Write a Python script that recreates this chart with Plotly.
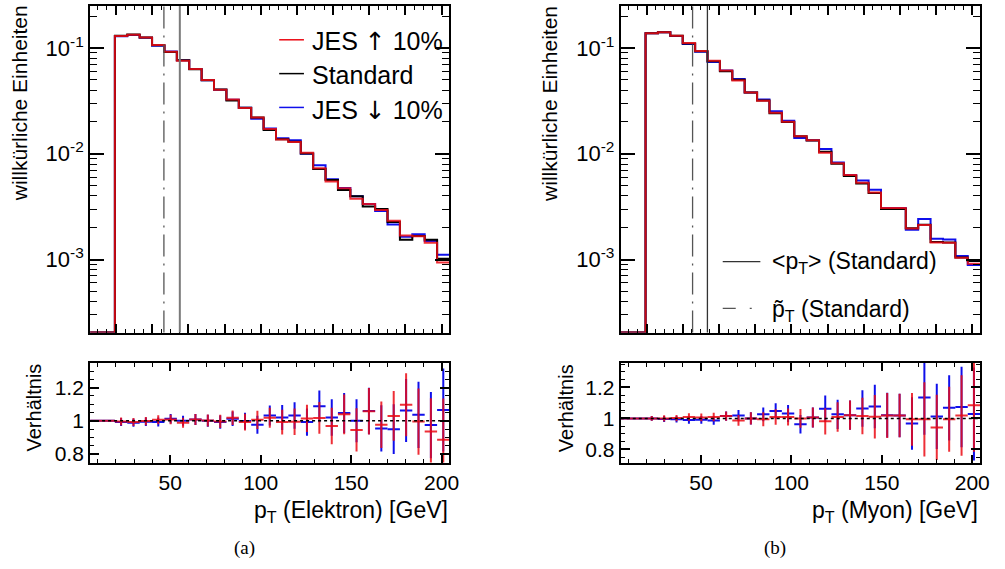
import numpy as np
import plotly.graph_objects as go

# ---------------- data ----------------
bin_lo = 5.7        # GeV, lower edge of first bin
bin_width = 6.85    # GeV
n_empty = 2         # leading empty bins (below the pT threshold)

# (a) Elektron
std_e = [0.1306, 0.1345, 0.126, 0.106, 0.0917, 0.0766, 0.063, 0.0497, 0.0406, 0.032,
         0.0273, 0.022, 0.01683, 0.01375, 0.01298, 0.01007, 0.00718, 0.00565, 0.00455, 0.00397,
         0.00317, 0.00301, 0.00226, 0.00154, 0.00167, 0.00154, 0.00102]
up_e = [0.1301, 0.1334, 0.1257, 0.1066, 0.0924, 0.0757, 0.0635, 0.0498, 0.0404, 0.0326,
        0.0271, 0.0221, 0.01713, 0.01364, 0.0129, 0.01021, 0.0073, 0.00547, 0.00473, 0.00375,
        0.00335, 0.00294, 0.00233, 0.00169, 0.00166, 0.00144, 0.00094]
down_e = [0.1296, 0.1329, 0.1252, 0.1052, 0.0928, 0.0766, 0.0635, 0.0497, 0.0403, 0.0324,
          0.0272, 0.0215, 0.01737, 0.01403, 0.0134, 0.00999, 0.0078, 0.00576, 0.00476, 0.00397,
          0.00336, 0.00287, 0.00214, 0.00164, 0.00173, 0.0015, 0.00111]
ratio_up_e = [0.996, 0.992, 0.998, 1.006, 1.008, 0.988, 1.008, 1.002, 0.996, 1.018,
              0.992, 1.006, 1.018, 0.992, 0.994, 1.014, 1.017, 0.969, 1.039, 0.945,
              1.057, 0.976, 1.029, 1.097, 0.995, 0.936, 0.885]
ratio_down_e = [0.992, 0.988, 0.994, 0.992, 1.012, 1.0, 1.008, 1.0, 0.992, 1.012,
                0.998, 0.976, 1.032, 1.02, 1.032, 0.992, 1.087, 1.02, 1.047, 1.0,
                1.059, 0.954, 0.949, 1.062, 1.036, 0.974, 1.065]
ratio_err_e = [0.024, 0.024, 0.025, 0.027, 0.029, 0.03, 0.033, 0.036, 0.04, 0.044,
               0.05, 0.055, 0.06, 0.075, 0.08, 0.082, 0.096, 0.11, 0.12, 0.13,
               0.14, 0.14, 0.15, 0.19, 0.2, 0.2, 0.25]
mean_pt_e = 55.3
median_pt_e = 46.5

# (b) Myon
std_m = [0.1384, 0.1413, 0.1306, 0.1106, 0.0931, 0.075, 0.0604, 0.0501, 0.0379, 0.0319,
         0.0242, 0.01995, 0.01465, 0.01334, 0.01044, 0.00806, 0.00618, 0.00524, 0.00425, 0.00301,
         0.00301, 0.00198, 0.00213, 0.001466, 0.00145, 0.001045, 0.00097]
up_m = [0.1384, 0.1413, 0.1309, 0.1116, 0.0937, 0.0757, 0.0613, 0.0494, 0.0379, 0.0317,
        0.0244, 0.02013, 0.01465, 0.01342, 0.01024, 0.00813, 0.00631, 0.00532, 0.0043, 0.00307,
        0.00307, 0.00197, 0.00212, 0.00145, 0.00144, 0.00104, 0.00091]
down_m = [0.1384, 0.1407, 0.1298, 0.1095, 0.0923, 0.074, 0.0613, 0.0511, 0.0379, 0.0327,
          0.0253, 0.02059, 0.01409, 0.01342, 0.01109, 0.00827, 0.00631, 0.00558, 0.00458, 0.00307,
          0.00307, 0.00191, 0.00242, 0.00157, 0.00155, 0.00108, 0.00089]
ratio_up_m = [1.0, 1.0, 1.002, 1.009, 1.006, 1.009, 1.015, 0.987, 1.0, 0.994,
              1.009, 1.009, 1.0, 1.006, 0.981, 1.009, 1.021, 1.015, 1.011, 1.019,
              1.019, 0.994, 0.994, 0.942, 0.994, 1.019, 1.085]
ratio_down_m = [1.0, 0.996, 0.994, 0.99, 0.991, 0.987, 1.015, 1.019, 1.0, 1.026,
                1.047, 1.032, 0.962, 1.006, 1.062, 1.026, 1.021, 1.064, 1.077, 1.021,
                1.019, 0.967, 1.135, 1.013, 1.068, 1.073, 1.028]
ratio_err_m = [0.016, 0.02, 0.02, 0.025, 0.025, 0.028, 0.03, 0.035, 0.04, 0.045,
               0.05, 0.055, 0.06, 0.065, 0.085, 0.095, 0.095, 0.118, 0.14, 0.145,
               0.14, 0.17, 0.24, 0.21, 0.21, 0.26, 0.3]
mean_pt_m = 53.6
median_pt_m = 45.4

ARROW_FONT = "DejaVu Sans"
legend_labels = ["JES <span style=\"font-family:%s\">\u2191</span> 10%%" % ARROW_FONT,
                 "Standard",
                 "JES <span style=\"font-family:%s\">\u2193</span> 10%%" % ARROW_FONT]
line_legend_labels = ["&lt;p<sub>T</sub>&gt; (Standard)", "p\u0303<sub>T</sub> (Standard)"]
y_title_top = "willk\u00fcrliche Einheiten"
y_title_ratio = "Verh\u00e4ltnis"
x_titles = ["p<sub>T</sub> (Elektron) [GeV]", "p<sub>T</sub> (Myon) [GeV]"]
captions = ["(a)", "(b)"]

# ---------------- styling ----------------
W, H = 1005, 569
FONT = "Liberation Sans, Arial, Helvetica, sans-serif"
SERIF = "Liberation Serif, Times New Roman, serif"
RED = "rgba(235,10,20,0.85)"
BLUE = "rgb(15,15,235)"
BLACK = "black"
Y_LOG_RANGE = [np.log10(2.04e-4), np.log10(0.25)]
n_bins = n_empty + len(std_e)
X_RANGE = [bin_lo, bin_lo + bin_width * n_bins]


def fx(p):
    return p / W


def fy(p):
    return 1 - p / H


def step_xy(vals):
    full = [10 ** Y_LOG_RANGE[0]] * n_empty + list(vals)
    edges = bin_lo + bin_width * np.arange(len(full) + 1)
    return edges, full + [full[-1]]


def hist_trace(vals, color, xa, ya):
    x, y = step_xy(vals)
    return go.Scatter(x=x, y=y, mode="lines", line=dict(shape="hv", color=color, width=2),
                      xaxis=xa, yaxis=ya, showlegend=False, hoverinfo="skip")


def ratio_trace(r, err, color, xa, ya):
    full_r = [1.0] * n_empty + list(r)
    full_e = [0.0] * n_empty + list(err)
    centers = bin_lo + bin_width * (np.arange(len(full_r)) + 0.5)
    return go.Scatter(x=centers, y=full_r, mode="markers",
                      marker=dict(size=1, color=color),
                      error_x=dict(type="constant", value=bin_width / 2, width=0, thickness=2, color=color),
                      error_y=dict(type="data", array=full_e, width=0, thickness=2, color=color),
                      xaxis=xa, yaxis=ya, showlegend=False, hoverinfo="skip")


fig = go.Figure()
panels = [
    dict(std=std_e, up=up_e, down=down_e, rup=ratio_up_e, rdown=ratio_down_e, err=ratio_err_e,
         xt="x", yt="y", xr="x2", yr="y2"),
    dict(std=std_m, up=up_m, down=down_m, rup=ratio_up_m, rdown=ratio_down_m, err=ratio_err_m,
         xt="x3", yt="y3", xr="x4", yr="y4"),
]
for p in panels:
    fig.add_trace(hist_trace(p["down"], BLUE, p["xt"], p["yt"]))
    fig.add_trace(hist_trace(p["std"], BLACK, p["xt"], p["yt"]))
    fig.add_trace(hist_trace(p["up"], RED, p["xt"], p["yt"]))
    fig.add_trace(ratio_trace(p["rdown"], p["err"], BLUE, p["xr"], p["yr"]))
    fig.add_trace(ratio_trace(p["rup"], p["err"], RED, p["xr"], p["yr"]))

common = dict(showline=True, linecolor="black", linewidth=2, mirror="allticks", ticks="inside",
              showgrid=False, zeroline=False, tickcolor="black", tickwidth=1.5,
              tickfont=dict(family=FONT, size=22, color="black"))

dec_minor = [m * 10.0 ** e for e in (-4, -3, -2, -1) for m in range(2, 10)]
dec_minor = [v for v in dec_minor if 10 ** Y_LOG_RANGE[0] <= v <= 10 ** Y_LOG_RANGE[1]]
x_major_top = list(range(20, 201, 20))
x_minor_5 = list(range(10, 205, 5))
x_minor_10 = list(range(10, 205, 10))


def top_x(domain, anchor):
    return dict(common, domain=domain, anchor=anchor, range=X_RANGE, showticklabels=False,
                tickmode="array", tickvals=x_major_top, ticklen=9,
                minor=dict(tickmode="array", tickvals=x_minor_5, ticklen=4, ticks="inside",
                           tickcolor="black", tickwidth=1.2))


def top_y(anchor):
    return dict(common, type="log", domain=[fy(334.3), fy(6)], anchor=anchor, range=Y_LOG_RANGE,
                tickmode="array", tickvals=[1e-3, 1e-2, 1e-1],
                ticktext=["10<sup>-3</sup>", "10<sup>-2</sup>", "10<sup>-1</sup>"], ticklen=14,
                minor=dict(tickmode="array", tickvals=dec_minor, ticklen=7, ticks="inside",
                           tickcolor="black", tickwidth=1.2))


def ratio_x(domain, anchor):
    return dict(common, domain=domain, anchor=anchor, range=X_RANGE,
                tickmode="array", tickvals=[50, 100, 150, 200], ticklen=8,
                tickfont=dict(family=FONT, size=21, color="black"),
                minor=dict(tickmode="array", tickvals=x_minor_10, ticklen=4, ticks="inside",
                           tickcolor="black", tickwidth=1.2))


def ratio_y(anchor, rng):
    return dict(common, domain=[fy(465), fy(365)], anchor=anchor, range=rng,
                tickmode="array", tickvals=[0.8, 1.0, 1.2], ticktext=["0.8", "1", "1.2"], ticklen=9,
                tickfont=dict(family=FONT, size=21, color="black"),
                minor=dict(tickmode="array", tickvals=[0.75, 0.85, 0.9, 0.95, 1.05, 1.1, 1.15, 1.25, 1.3, 1.35],
                           ticklen=4, ticks="inside", tickcolor="black", tickwidth=1.2))


dl = [fx(91), fx(454)]
dr = [fx(627), fx(990)]
fig.update_layout(
    width=W, height=H, autosize=False,
    margin=dict(l=0, r=0, t=0, b=0),
    paper_bgcolor="white", plot_bgcolor="white",
    font=dict(family=FONT, color="black"),
    xaxis=top_x(dl, "y"), yaxis=top_y("x"),
    xaxis2=ratio_x(dl, "y2"), yaxis2=ratio_y("x2", [0.748, 1.348]),
    xaxis3=top_x(dr, "y3"), yaxis3=top_y("x3"),
    xaxis4=ratio_x(dr, "y4"), yaxis4=ratio_y("x4", [0.715, 1.357]),
)

DASHDOT = "22px,7px,2px,7px"
shapes = []
# mean / median lines
for xa, mean_v, med_v, mcol, mw in (("x", mean_pt_e, median_pt_e, "#7a7a7a", 2),
                                    ("x3", mean_pt_m, median_pt_m, "#333333", 1.3)):
    shapes.append(dict(type="line", xref=xa, yref=xa.replace("x", "y") + " domain", x0=mean_v, x1=mean_v,
                       y0=0, y1=1, line=dict(color=mcol, width=mw)))
    shapes.append(dict(type="line", xref=xa, yref=xa.replace("x", "y") + " domain", x0=med_v, x1=med_v,
                       y0=0, y1=1, line=dict(color="#555555", width=1.3, dash=DASHDOT)))
# ratio = 1 reference lines
for xa, ya in (("x2", "y2"), ("x4", "y4")):
    shapes.append(dict(type="line", xref=xa + " domain", yref=ya, x0=0, x1=1, y0=1, y1=1,
                       line=dict(color="black", width=1.5, dash="3px,3px")))
# legend samples (a)
for yy, col in ((40, "rgb(235,10,20)"), (74, "black"), (108, BLUE)):
    shapes.append(dict(type="line", xref="paper", yref="paper", x0=fx(282), x1=fx(307),
                       y0=fy(yy), y1=fy(yy), line=dict(color=col, width=1.5)))
# legend samples (b)
shapes.append(dict(type="line", xref="paper", yref="paper", x0=fx(730), x1=fx(768),
                   y0=fy(263), y1=fy(263), line=dict(color="#333333", width=1.3)))
shapes.append(dict(type="line", xref="paper", yref="paper", x0=fx(730), x1=fx(768),
                   y0=fy(310), y1=fy(310), line=dict(color="#555555", width=1.3, dash="13px,14px,2px,20px")))
fig.update_layout(shapes=shapes)

ann = []
for txt, yy in zip(legend_labels, (42, 75, 111)):
    ann.append(dict(text=txt, x=fx(313), y=fy(yy), xref="paper", yref="paper", xanchor="left",
                    yanchor="middle", showarrow=False, font=dict(family=FONT, size=25, color="black")))
for txt, yy in zip(line_legend_labels, (264, 312)):
    ann.append(dict(text=txt, x=fx(778), y=fy(yy), xref="paper", yref="paper", xanchor="left",
                    yanchor="middle", showarrow=False, font=dict(family=FONT, size=23, color="black")))
for xc in (20, 555):
    ann.append(dict(text=y_title_top, x=fx(xc), y=fy(104), xref="paper", yref="paper", textangle=-90,
                    xanchor="center", yanchor="middle", showarrow=False,
                    font=dict(family=FONT, size=21, color="black")))
for xc in (34, 572):
    ann.append(dict(text=y_title_ratio, x=fx(xc), y=fy(410), xref="paper", yref="paper", textangle=-90,
                    xanchor="center", yanchor="middle", showarrow=False,
                    font=dict(family=FONT, size=20, color="black")))
for txt, xr in zip(x_titles, (455, 990)):
    ann.append(dict(text=txt, x=fx(xr), y=fy(514), xref="paper", yref="paper", xanchor="right",
                    yanchor="middle", showarrow=False, font=dict(family=FONT, size=23, color="black")))
for txt, xc in zip(captions, (247, 783)):
    ann.append(dict(text=txt, x=fx(xc), y=fy(551), xref="paper", yref="paper", xanchor="center",
                    yanchor="middle", showarrow=False, font=dict(family=SERIF, size=19, color="black")))
fig.update_layout(annotations=ann)

PAGE_FIX = (
    "(function(){var els=[document.documentElement,document.body];"
    "for(var i=0;i<els.length;i++){var s=els[i].style;s.margin='0';s.padding='0';"
    "s.overflow='hidden';s.width='1005px';s.height='569px';}})();"
)
fig.write_html("out.html", config={"displayModeBar": False}, post_script=PAGE_FIX)
